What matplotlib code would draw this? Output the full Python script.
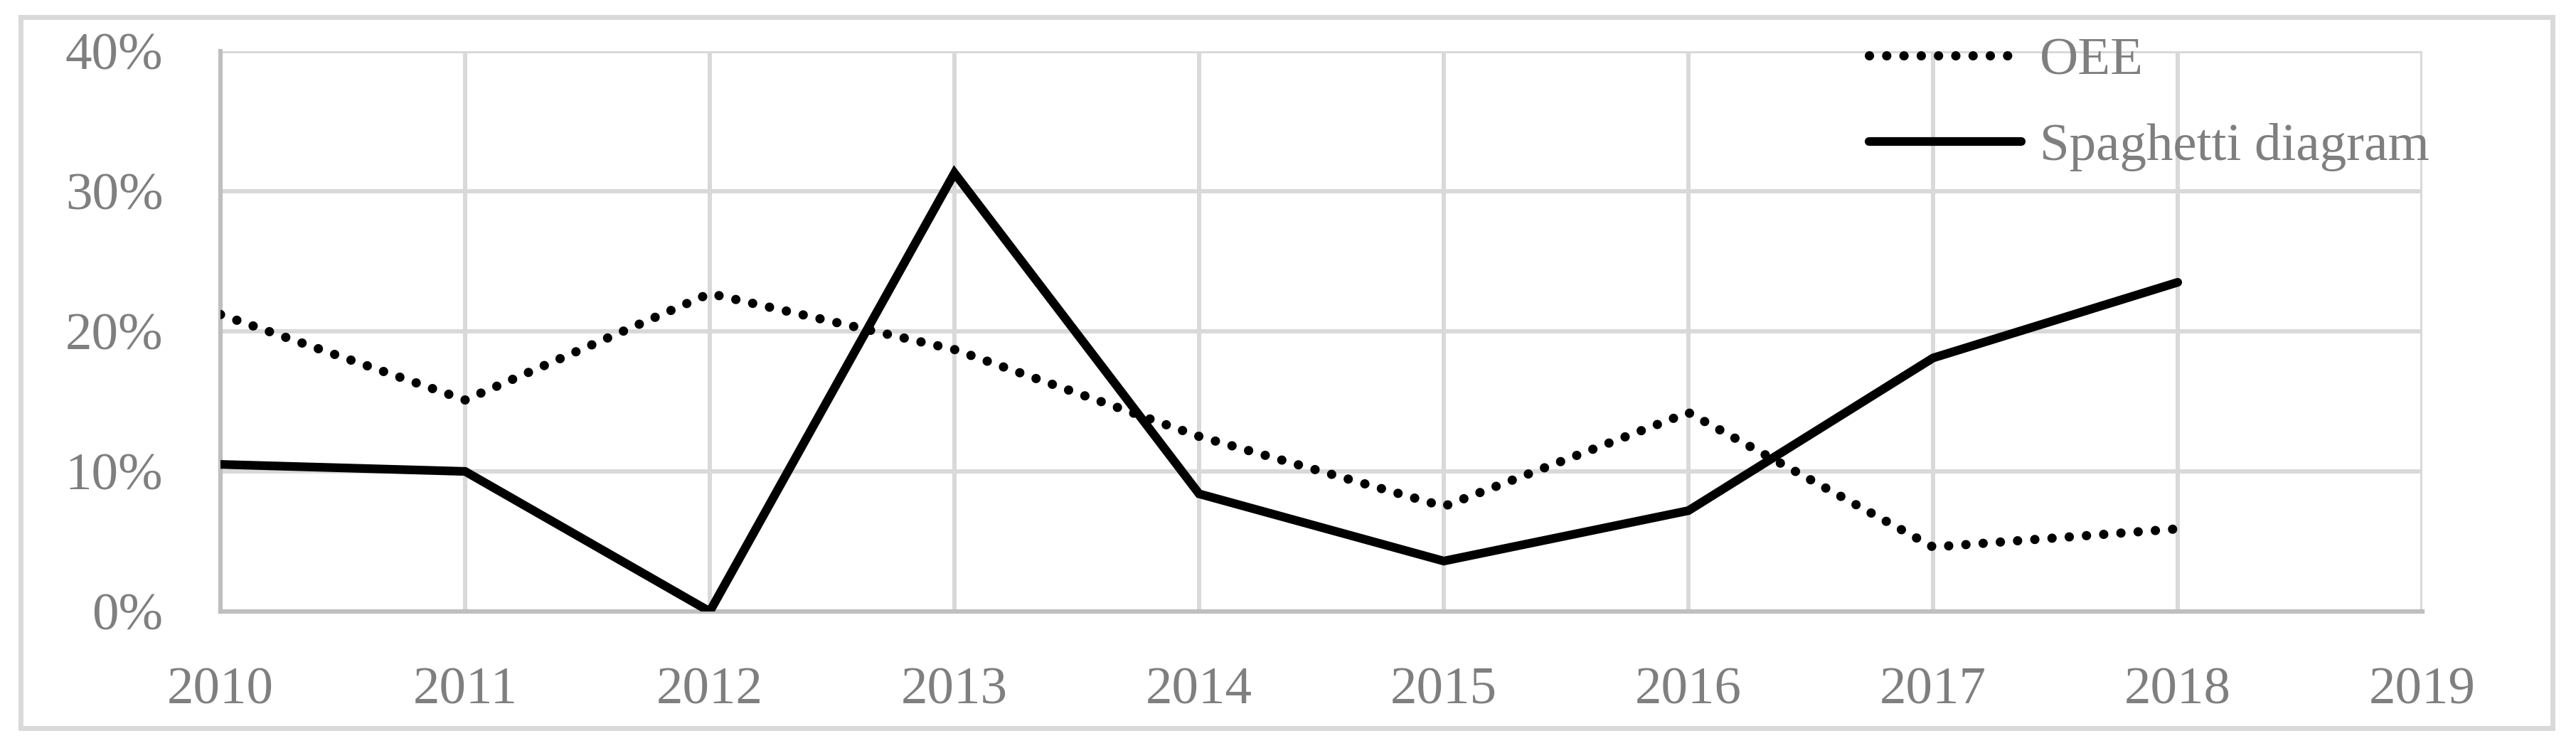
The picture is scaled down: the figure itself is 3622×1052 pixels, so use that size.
import matplotlib
matplotlib.use("Agg")
import matplotlib.pyplot as plt
from matplotlib.lines import Line2D
from matplotlib.patches import Rectangle
from matplotlib.ticker import PercentFormatter

# --- DATA ---
YEARS = [2010, 2011, 2012, 2013, 2014, 2015, 2016, 2017, 2018]
OEE = [21.2, 15.1, 22.7, 18.7, 12.5, 7.5, 14.2, 4.6, 5.9]
SPAGHETTI = [10.5, 10.0, 0.0, 31.3, 8.4, 3.6, 7.2, 18.1, 23.5]
X_TICKS = [2010, 2011, 2012, 2013, 2014, 2015, 2016, 2017, 2018, 2019]
Y_TICKS = [0, 10, 20, 30, 40]
LABELS = ["OEE", "Spaghetti diagram"]

# --- STYLE ---
W_PX, H_PX, DPI = 3622, 1052, 100
FONT = "Liberation Serif"
FONT_SIZE = 54
TEXT_COLOR = "#7f7f7f"
GRID_COLOR = "#d9d9d9"
SPINE_COLOR = "#bfbfbf"
LINE_W = 8.8
DOT_W = 9.4


def main() -> None:
    plt.rcParams["font.family"] = [FONT, "DejaVu Serif"]
    fig = plt.figure(figsize=(W_PX / DPI, H_PX / DPI), dpi=DPI)

    # outer chart frame
    fig.patches.append(
        Rectangle(
            (29 / W_PX, 28 / H_PX),
            (3589 - 29) / W_PX,
            (1024 - 24) / H_PX,
            transform=fig.transFigure,
            fill=False,
            edgecolor=GRID_COLOR,
            linewidth=5,
        )
    )

    ax = fig.add_axes([310 / W_PX, 192 / H_PX, (3406 - 310) / W_PX, (860 - 72) / H_PX])

    dotted = (0, (0.01, 1.85))
    ax.plot(
        YEARS,
        OEE,
        color="black",
        linewidth=DOT_W,
        linestyle=dotted,
        dash_capstyle="round",
        zorder=3,
    )
    ax.plot(
        YEARS,
        SPAGHETTI,
        color="black",
        linewidth=LINE_W,
        solid_capstyle="round",
        solid_joinstyle="miter",
        zorder=4,
    )

    ax.set_xlim(X_TICKS[0], X_TICKS[-1])
    ax.set_ylim(Y_TICKS[0], Y_TICKS[-1])
    ax.set_xticks(X_TICKS)
    ax.set_yticks(Y_TICKS)
    ax.yaxis.set_major_formatter(PercentFormatter(xmax=100, decimals=0))

    ax.grid(True, color=GRID_COLOR, linewidth=4.3)
    ax.set_axisbelow(True)
    for side in ["top", "right"]:
        ax.spines[side].set_visible(False)
    for side in ["left", "bottom"]:
        ax.spines[side].set_color(SPINE_COLOR)
        ax.spines[side].set_linewidth(4.5)

    ax.tick_params(axis="x", length=0, pad=56, labelsize=FONT_SIZE, labelcolor=TEXT_COLOR)
    ax.tick_params(axis="y", length=0, pad=58, labelsize=FONT_SIZE, labelcolor=TEXT_COLOR)

    handles = [
        Line2D([], [], color="black", linewidth=DOT_W, linestyle=dotted, dash_capstyle="round"),
        Line2D([], [], color="black", linewidth=LINE_W, solid_capstyle="round"),
    ]
    leg = ax.legend(
        handles,
        LABELS,
        loc="upper left",
        bbox_to_anchor=(2628 / W_PX, 1 - 52 / H_PX),
        bbox_transform=fig.transFigure,
        frameon=False,
        fontsize=FONT_SIZE,
        handlelength=2.85,
        handletextpad=0.35,
        labelspacing=0.69,
        borderpad=0,
        borderaxespad=0,
    )
    for text in leg.get_texts():
        text.set_color(TEXT_COLOR)

    fig.savefig("out.png", dpi=DPI, facecolor="white")


if __name__ == "__main__":
    main()
